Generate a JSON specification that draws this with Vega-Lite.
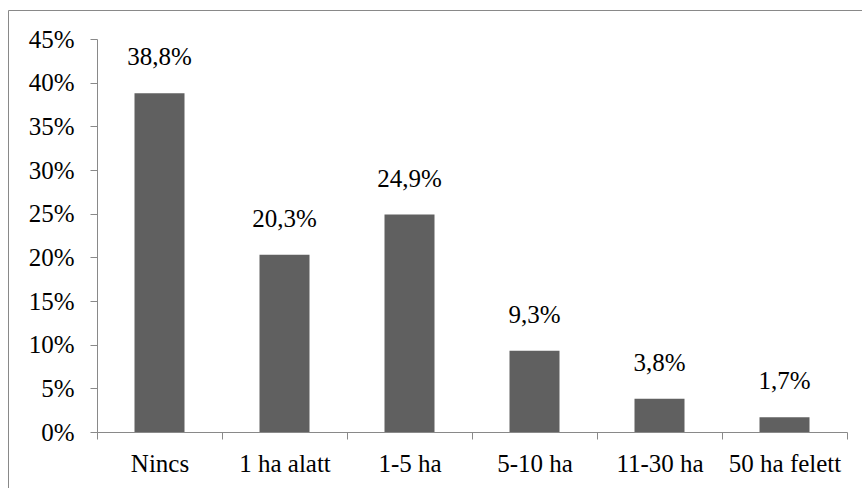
{
  "$schema": "https://vega.github.io/schema/vega-lite/v6.json",
  "width": 860,
  "height": 485,
  "autosize": {"type": "none"},
  "padding": {"left": 8, "top": 10, "right": 0, "bottom": 0},
  "config": {
    "view": {"stroke": "#898989", "strokeWidth": 1},
    "font": "Liberation Serif, Liberation Sans, serif",
    "locale": {"number": {"decimal": ",", "thousands": " ", "grouping": [3], "currency": ["", " Ft"]}}
  },
  "data": {
    "values": [
      {"cat": "Nincs", "value": 0.388},
      {"cat": "1 ha alatt", "value": 0.203},
      {"cat": "1-5 ha", "value": 0.249},
      {"cat": "5-10 ha", "value": 0.093},
      {"cat": "11-30 ha", "value": 0.038},
      {"cat": "50 ha felett", "value": 0.017}
    ]
  },
  "encoding": {
    "x": {
      "field": "cat",
      "type": "nominal",
      "sort": null,
      "scale": {"range": [89, 839], "paddingInner": 0, "paddingOuter": 0},
      "axis": {
        "title": null,
        "offset": -63,
        "labelAngle": 0,
        "labelFont": "Liberation Serif, Liberation Sans, serif",
        "labelFontSize": 25,
        "labelColor": "#000000",
        "labelPadding": 12,
        "tickBand": "extent",
        "tickSize": 7,
        "tickColor": "#898989",
        "domainColor": "#898989",
        "grid": false
      }
    },
    "y": {
      "field": "value",
      "type": "quantitative",
      "scale": {"domain": [0, 0.45], "range": [422, 29], "nice": false, "zero": true},
      "axis": {
        "title": null,
        "offset": -89,
        "format": ".0%",
        "values": [0, 0.05, 0.1, 0.15, 0.2, 0.25, 0.3, 0.35, 0.4, 0.45],
        "labelFont": "Liberation Serif, Liberation Sans, serif",
        "labelFontSize": 25,
        "labelColor": "#000000",
        "labelPadding": 16,
        "tickSize": 7,
        "tickColor": "#898989",
        "domainColor": "#898989",
        "grid": false
      }
    }
  },
  "layer": [
    {"mark": {"type": "bar", "width": {"band": 0.4}, "color": "#606060"}},
    {
      "mark": {"type": "text", "dy": -28, "baseline": "alphabetic", "fontSize": 25, "font": "Liberation Serif, Liberation Sans, serif", "color": "#000000"},
      "encoding": {"text": {"field": "value", "type": "quantitative", "format": ".1%"}}
    }
  ]
}
